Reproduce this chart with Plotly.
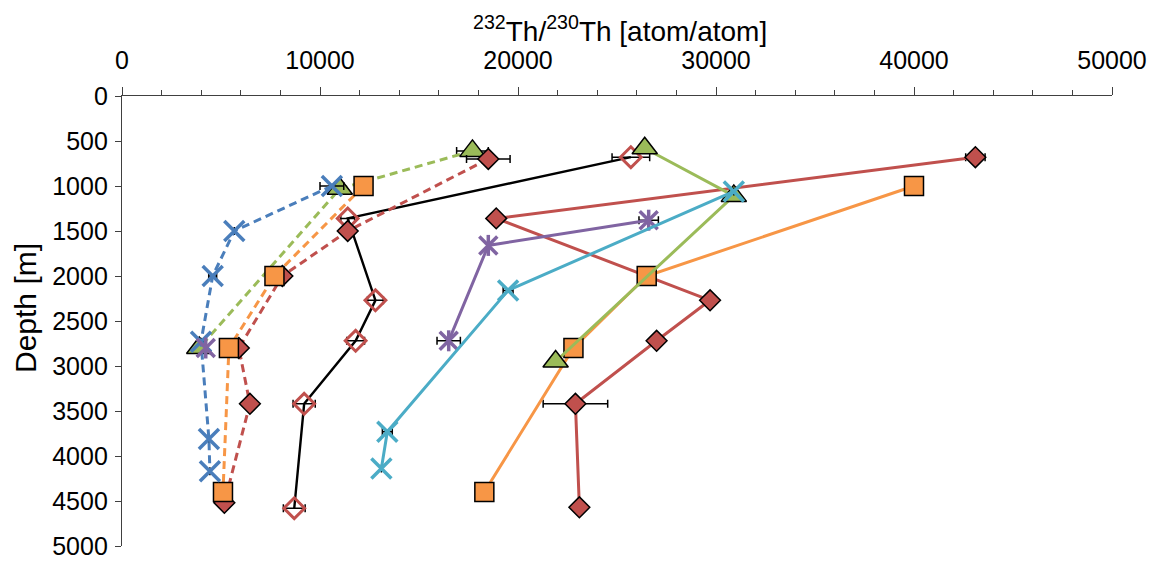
import plotly.graph_objects as go

# ---- data: 232Th/230Th ratio [atom/atom] versus depth [m] ----
# solid black line, open red diamonds
blk_x = [25700, 11400, 12800, 11800, 9200, 8700]
blk_y = [680, 1360, 2270, 2720, 3420, 4580]
blk_err = [950, 350, 400, 450, 560, 550]

# dashed series
red_d_x = [18500, 11400, 8100, 5900, 6460, 5170]
red_d_y = [700, 1500, 2000, 2800, 3420, 4520]
red_d_err = [1100, 250, 0, 0, 0, 0]

org_d_x = [12200, 7700, 5400, 5100]
org_d_y = [1000, 2000, 2800, 4400]

grn_d_x = [17700, 11000, 3900]
grn_d_y = [610, 1030, 2800]
grn_d_err = [800, 0, 0]

blu_d_x = [10600, 5670, 4580, 3990, 4390, 4440]
blu_d_y = [1000, 1500, 2000, 2730, 3810, 4170]
blu_d_err = [600, 0, 200, 0, 0, 0]

# solid series
red_s_x = [43100, 18900, 29700, 27000, 22900, 23100]
red_s_y = [680, 1360, 2270, 2720, 3420, 4570]
red_s_err = [490, 0, 0, 0, 1630, 0]

org_s_x = [40000, 26500, 22800, 18300]
org_s_y = [1000, 2000, 2800, 4400]

grn_s_x = [26400, 30900, 21900]
grn_s_y = [580, 1110, 2950]
grn_s_err = [0, 250, 0]

pur_x = [26600, 18500, 16500]
pur_y = [1380, 1660, 2720]
pur_err = [490, 0, 590]

pur2_x = [4230]
pur2_y = [2800]

cyn_x = [30900, 19500, 13400, 13100]
cyn_y = [1060, 2160, 3730, 4140]
cyn_err = [0, 250, 250, 0]

x_ticks = [0, 10000, 20000, 30000, 40000, 50000]
y_ticks = [0, 500, 1000, 1500, 2000, 2500, 3000, 3500, 4000, 4500, 5000]

BLUE = "#4A7EBB"
GREEN = "#9BBB59"
ORANGE = "#F79646"
RED = "#C0504D"
PURPLE = "#8064A2"
CYAN = "#4BACC6"
DASH = "8px,5px"


def errx(vals):
    return dict(type="data", array=vals, visible=True, color="black",
                thickness=1.5, width=4)


fig = go.Figure()


def series(x, y, color, symbol, size, dash=None, err=None, mcolor=None,
           mline="black", mlw=1.5, lw=3, mode="lines+markers"):
    fig.add_trace(go.Scatter(
        x=x, y=y, mode=mode,
        line=dict(color=color, width=lw, dash=dash or "solid"),
        marker=dict(symbol=symbol, size=size,
                    color=mcolor if mcolor is not None else color,
                    line=dict(color=mline, width=mlw)),
        error_x=errx(err) if err else None,
        showlegend=False, hoverinfo="x+y",
    ))


# black line with open diamonds
series(blk_x, blk_y, "black", "diamond-open", 16, err=blk_err,
       mcolor=RED, mline=RED, mlw=3, lw=2.4)

# dashed profiles
series(grn_d_x, grn_d_y, GREEN, "triangle-up", 22, dash=DASH, err=grn_d_err)
series(red_d_x, red_d_y, RED, "diamond", 16, dash=DASH, err=red_d_err)
series(org_d_x, org_d_y, ORANGE, "square", 19, dash=DASH)
series(blu_d_x, blu_d_y, BLUE, "x-thin-open", 20, dash=DASH, err=blu_d_err,
       mline=BLUE, mlw=3.5)

# solid profiles
series(red_s_x, red_s_y, RED, "diamond", 16, err=red_s_err)
series(org_s_x, org_s_y, ORANGE, "square", 19)
series(grn_s_x, grn_s_y, GREEN, "triangle-up", 22, err=grn_s_err)
series(pur_x, pur_y, PURPLE, "x-thin-open", 18, err=pur_err,
       mline=PURPLE, mlw=3.5)
series(pur2_x, pur2_y, PURPLE, "x-thin-open", 18, mline=PURPLE, mlw=3.5,
       mode="markers")
# vertical stroke that turns the purple x into a star
series(pur_x + pur2_x, pur_y + pur2_y, PURPLE, "line-ns-open", 15,
       mline=PURPLE, mlw=3.5, mode="markers")
series(cyn_x, cyn_y, CYAN, "x-thin-open", 20, err=cyn_err,
       mline=CYAN, mlw=3.5)

FAMILY = "Liberation Sans, Arial, sans-serif"
TICKFONT = dict(family=FAMILY, size=25, color="black")
XTITLEFONT = dict(family=FAMILY, size=28, color="black")
YTITLEFONT = dict(family=FAMILY, size=30, color="black")

fig.update_layout(
    width=1161, height=574,
    margin=dict(l=122, r=49, t=96, b=28),
    paper_bgcolor="white", plot_bgcolor="white",
    font=TICKFONT,
    xaxis=dict(
        side="top", range=[0, 50000], tickvals=x_ticks,
        ticktext=[str(v) for v in x_ticks],
        ticks="outside", ticklen=8, tickwidth=1.3, tickcolor="#404040",
        minor=dict(dtick=2000, ticks="outside", ticklen=5, tickwidth=1,
                   tickcolor="#404040"),
        showline=True, linecolor="#404040", linewidth=1.3,
        showgrid=False, zeroline=False, tickfont=TICKFONT,
        ticklabelstandoff=8,
    ),
    yaxis=dict(
        range=[5000, 0], tickvals=y_ticks,
        ticktext=[str(v) for v in y_ticks],
        ticks="outside", ticklen=6, tickwidth=1.3, tickcolor="#404040",
        showline=True, linecolor="#404040", linewidth=1.3,
        showgrid=False, zeroline=False, tickfont=TICKFONT,
        ticklabelstandoff=2,
    ),
    annotations=[
        dict(text="<sup>232</sup>Th/<sup>230</sup>Th [atom/atom]",
             xref="paper", yref="paper", x=0.503, y=(546 - 29) / 450,
             xanchor="center", yanchor="middle", showarrow=False,
             font=XTITLEFONT),
        dict(text="Depth [m]", textangle=-90,
             xref="paper", yref="paper", x=(25 - 122) / 990,
             y=(546 - 308) / 450,
             xanchor="center", yanchor="middle", showarrow=False,
             font=YTITLEFONT),
    ],
)

fig.write_html("out.html")
